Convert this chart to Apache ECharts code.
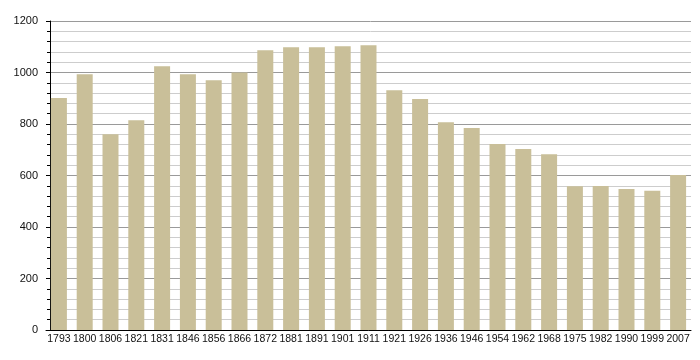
<!DOCTYPE html>
<html>
<head>
<meta charset="utf-8">
<script src="https://cdn.jsdelivr.net/npm/echarts@6/dist/echarts.min.js"></script>
<style>html,body{margin:0;padding:0;background:#fff}#c{width:700px;height:360px}</style>
</head>
<body>
<div id="c"></div>
<script>
var years = ['1793','1800','1806','1821','1831','1846','1856','1866','1872','1881','1891','1901','1911','1921','1926','1936','1946','1954','1962','1968','1975','1982','1990','1999','2007'];
var population = [901,993,760,815,1024,993,970,1000,1086,1098,1098,1102,1106,931,897,807,784,722,703,683,558,559,548,541,602];
var yMin = 0, yMax = 1200, yStep = 200;

var font = 'Liberation Sans, Arial, sans-serif';
var chart = echarts.init(document.getElementById('c'));
chart.setOption({
  animation: false,
  grid: [
    {left: 50, right: 9, top: 21, bottom: 30},
    {left: 46, right: 9, top: 21, bottom: 30}
  ],
  xAxis: [
    {gridIndex: 0, type: 'value', show: false},
    {gridIndex: 1, type: 'category', data: years,
     axisLine: {lineStyle: {color: '#000', width: 1}},
     axisTick: {show: false},
     axisLabel: {color: '#111', fontFamily: font, fontSize: 10.5, margin: 4, interval: 0}}
  ],
  yAxis: [
    {gridIndex: 0, type: 'value', min: yMin, max: yMax, interval: yStep,
     axisLine: {show: true, lineStyle: {color: '#000', width: 1}},
     axisTick: {show: true, length: 4, lineStyle: {color: '#000'}},
     minorTick: {show: true, splitNumber: 5, length: 3, lineStyle: {color: '#000'}},
     splitLine: {show: true, lineStyle: {color: '#9a9a9a', width: 1}},
     minorSplitLine: {show: true, lineStyle: {color: '#cdcdcd', width: 1}},
     axisLabel: {color: '#111', fontFamily: font, fontSize: 11, margin: 12,
                 formatter: function (v) { return String(v); }}},
    {gridIndex: 1, type: 'value', min: yMin, max: yMax, show: false, splitLine: {show: false}}
  ],
  series: [{
    type: 'bar', xAxisIndex: 1, yAxisIndex: 1,
    data: population, barWidth: 16,
    itemStyle: {color: '#c9bf99'}
  }]
});
</script>
</body>
</html>
